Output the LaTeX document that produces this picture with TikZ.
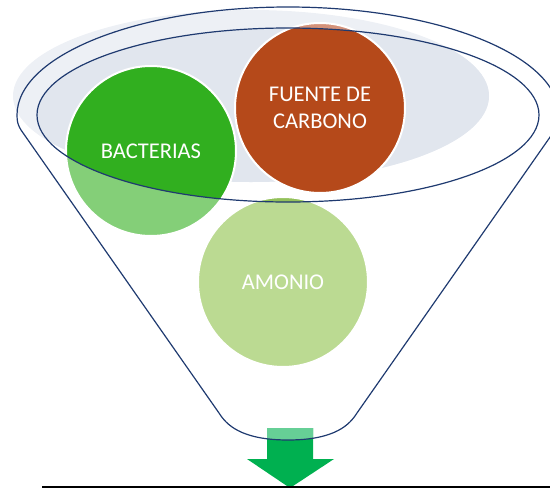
\documentclass[tikz,border=0pt]{standalone}
\usepackage{fontspec}
\setmainfont{Carlito}
\definecolor{navy}{HTML}{1F3A70}
\definecolor{shadeA}{HTML}{EDF0F5}
\definecolor{shadeB}{HTML}{E1E6EE}
\definecolor{bactD}{HTML}{31AF1F}
\definecolor{bactL}{HTML}{84CF78}
\definecolor{carbD}{HTML}{B5491A}
\definecolor{carbL}{HTML}{D4927A}
\definecolor{amonD}{HTML}{93C15A}
\definecolor{amonL}{HTML}{BBDA92}
\definecolor{arrD}{HTML}{00B050}
\definecolor{arrL}{HTML}{66CF96}
\definecolor{baseline}{HTML}{707070}
\newcommand{\fnlpath}{(17,115) .. controls (17,122) and (18,125) .. (21,130) -- (219,413) .. controls (226,424) and (240,440) .. (288,440) .. controls (336,440) and (350,424) .. (357,413) -- (555,130) .. controls (558,125) and (559,122) .. (559,115) arc[start angle=0, end angle=-180, x radius=271, y radius=108] -- cycle}
\newcommand{\arrpath}{(267,428) -- (313,428) -- (313,459) -- (334,459) -- (290,488) -- (247,459) -- (267,459) -- cycle}
\tikzset{
  outline/.style={draw=navy, line width=1.2pt},
  lbl/.style={text=white, align=center, font=\fontsize{22.5}{27}\selectfont},
  rim/.style={draw=white, line width=2pt}
}
\begin{document}
\begin{tikzpicture}[x=1pt, y=-1pt]
\useasboundingbox (0,0) rectangle (550,488);
% coordinates
\coordinate (cb) at (151,151);
\coordinate (cc) at (320,108);
\coordinate (ca) at (283,282);
\coordinate (rimc) at (288,115);
% shaded back ellipse
\fill[shadeA] (251,96) ellipse[x radius=238, y radius=86];
\begin{scope}
  \clip (rimc) ellipse[x radius=251, y radius=87];
  \fill[shadeB] (251,96) ellipse[x radius=238, y radius=86];
\end{scope}
% circles (light)
\fill[bactL] (cb) circle[radius=85];
\fill[carbL] (cc) circle[radius=85];
\fill[amonL] (ca) circle[radius=85];
% circles (dark, inside rim)
\begin{scope}
  \clip (rimc) ellipse[x radius=251, y radius=87];
  \fill[bactD] (cb) circle[radius=85];
  \fill[carbD] (cc) circle[radius=85];
  \fill[amonD] (ca) circle[radius=85];
\end{scope}
\draw[rim] (cb) circle[radius=85];
\draw[rim] (cc) circle[radius=85];
\draw[rim] (ca) circle[radius=85];
% arrow
\fill[arrD] \arrpath;
\begin{scope}
  \clip \fnlpath;
  \fill[arrL] \arrpath;
\end{scope}
% funnel outline
\draw[outline] \fnlpath;
\draw[outline] (rimc) ellipse[x radius=251, y radius=87];
% base line
\coordinate (bl) at (42,487);
\coordinate (br) at (550,487);
\draw[baseline, line width=1.3pt] (bl) -- (br);
% labels
\node[lbl] (bact) at (cb) {BACTERIAS};
\node[lbl] (carb) at (cc) {FUENTE DE\\CARBONO};
\node[lbl] (amon) at (ca) {AMONIO};
\end{tikzpicture}
\end{document}
